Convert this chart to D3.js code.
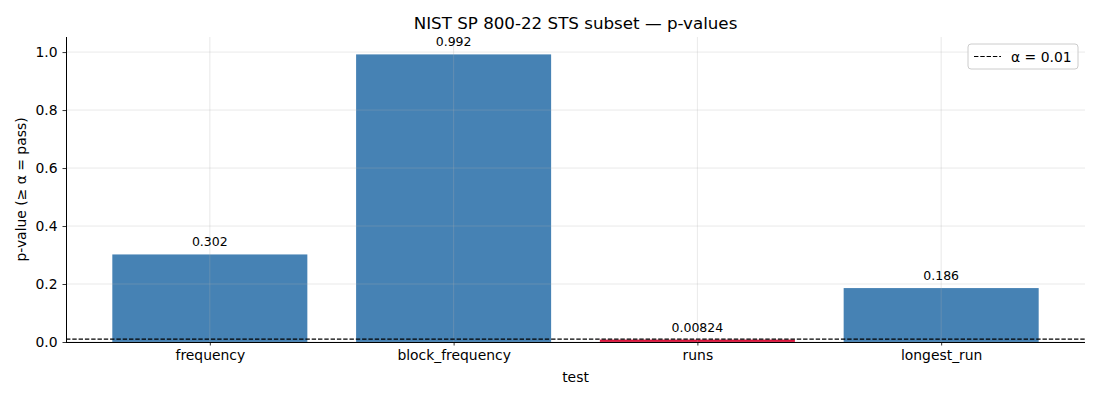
<!DOCTYPE html>
<html>
<head>
<meta charset="utf-8">
<script src="https://cdn.jsdelivr.net/npm/d3@7"></script>
<style>
  body { margin: 0; background: #fff; }
  text { font-family: "DejaVu Sans", sans-serif; fill: #000; }
</style>
</head>
<body>
<div id="canvas"></div>
<script>
var tests = ['frequency', 'block_frequency', 'runs', 'longest_run']
var pvals = [0.302, 0.992, 0.00824, 0.186]
var labels = ['0.302', '0.992', '0.00824', '0.186']
var alpha = 0.01
var yTicks = [0, 0.2, 0.4, 0.6, 0.8, 1.0]

var W = 1100, H = 400
// plot box (window.top is reserved, so different names)
var mLeft = 66, mRight = 1085, mTop = 37, mBottom = 342

let svg = d3.select('#canvas').append('svg')
  .attr('width', W).attr('height', H)

// categorical x as linear so xlim matches (-0.59 .. 3.59)
let x = d3.scaleLinear().domain([-0.59, 3.59]).range([mLeft, mRight])
let y = d3.scaleLinear().domain([0, 1.052]).range([mBottom, mTop])
var bw = 0.8

// bars
svg.selectAll('rect.bar').data(pvals).enter().append('rect')
  .attr('class', 'bar')
  .attr('x', (d, i) => x(i - bw / 2))
  .attr('width', (d, i) => x(i + bw / 2) - x(i - bw / 2))
  .attr('y', d => y(d))
  .attr('height', d => y(0) - y(d))
  .style('fill', d => d < alpha ? '#dc143c' : '#4682b4')

// grid (drawn above bars)
let grid = svg.append('g')
grid.selectAll('line.h').data(yTicks).enter().append('line')
  .attr('x1', mLeft).attr('x2', mRight)
  .attr('y1', d => y(d)).attr('y2', d => y(d))
  .style('stroke', '#b0b0b0').style('stroke-opacity', 0.35).style('stroke-width', 0.8)
grid.selectAll('line.v').data(tests).enter().append('line')
  .attr('x1', (d, i) => x(i)).attr('x2', (d, i) => x(i))
  .attr('y1', mTop).attr('y2', mBottom)
  .style('stroke', '#b0b0b0').style('stroke-opacity', 0.35).style('stroke-width', 0.8)

// alpha line
svg.append('line')
  .attr('x1', mLeft).attr('x2', mRight)
  .attr('y1', y(alpha)).attr('y2', y(alpha))
  .style('stroke', '#000').style('stroke-width', 1.2)
  .style('stroke-dasharray', '4.4,1.9')

// value labels
svg.selectAll('text.val').data(pvals).enter().append('text')
  .attr('class', 'val')
  .attr('x', (d, i) => x(i))
  .attr('y', d => y(d) - 8)
  .attr('text-anchor', 'middle')
  .style('font-size', '12.5px')
  .text((d, i) => labels[i])

// axes
let xAxis = d3.axisBottom(x)
  .tickValues(d3.range(tests.length))
  .tickFormat((d, i) => tests[i])
  .tickSize(3.5).tickPadding(5).tickSizeOuter(0)
let yAxis = d3.axisLeft(y)
  .tickValues(yTicks)
  .tickFormat(d3.format('.1f'))
  .tickSize(3.5).tickPadding(5).tickSizeOuter(0)

let gx = svg.append('g').attr('transform', 'translate(0,' + mBottom + ')').call(xAxis)
let gy = svg.append('g').attr('transform', 'translate(' + mLeft + ',0)').call(yAxis)
;[gx, gy].forEach(g => {
  g.selectAll('text').style('font-size', '13.9px').style('font-family', '"DejaVu Sans", sans-serif')
  g.select('.domain').style('stroke', '#000').style('stroke-width', 1)
  g.selectAll('.tick line').style('stroke', '#000').style('stroke-width', 0.8)
})
gy.select('.domain').attr('d', 'M0.5,' + mBottom + 'V' + mTop)
gx.select('.domain').attr('d', 'M' + mLeft + ',0.5H' + mRight)

// titles
svg.append('text').attr('x', (mLeft + mRight) / 2).attr('y', 29)
  .attr('text-anchor', 'middle').style('font-size', '16.7px')
  .text('NIST SP 800-22 STS subset — p-values')
svg.append('text').attr('x', (mLeft + mRight) / 2).attr('y', 382)
  .attr('text-anchor', 'middle').style('font-size', '13.9px')
  .text('test')
svg.append('text')
  .attr('transform', 'translate(26,' + (mTop + mBottom) / 2 + ') rotate(-90)')
  .attr('text-anchor', 'middle').style('font-size', '13.9px')
  .text('p-value (≥ α = pass)')

// legend
let lg = svg.append('g').attr('transform', 'translate(968,44)')
lg.append('rect').attr('width', 110).attr('height', 25).attr('rx', 3)
  .style('fill', '#fff').style('fill-opacity', 0.8)
  .style('stroke', '#ccc').style('stroke-width', 1)
lg.append('line').attr('x1', 6).attr('x2', 33).attr('y1', 12.5).attr('y2', 12.5)
  .style('stroke', '#000').style('stroke-width', 1.2).style('stroke-dasharray', '4.4,1.9')
lg.append('text').attr('x', 43).attr('y', 17.5).style('font-size', '13.9px')
  .text('α = 0.01')
</script>
</body>
</html>
